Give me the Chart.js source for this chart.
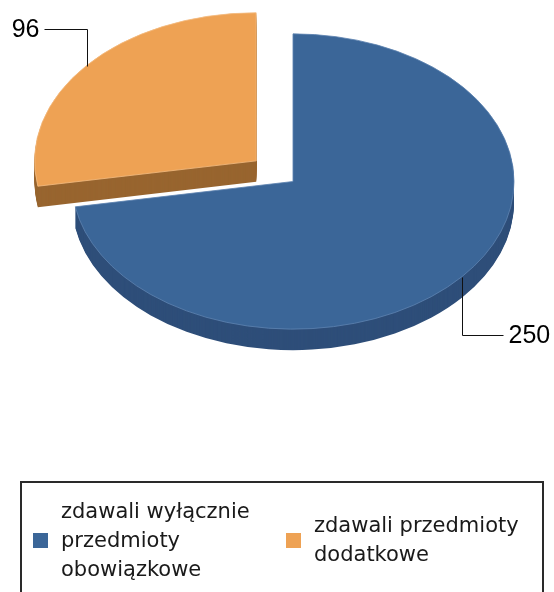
<!DOCTYPE html>
<html>
<head>
<meta charset="utf-8">
<script src="https://cdn.jsdelivr.net/npm/chart.js@4.4.0/dist/chart.umd.min.js"></script>
<style>
  html, body { margin: 0; padding: 0; background: #fff; overflow: hidden; }
  #wrap { position: relative; width: 554px; height: 592px; overflow: hidden; }
  #pie { position: absolute; left: 0; top: 0; }
  #legend {
    position: absolute; left: 20px; top: 481px; width: 520px; height: 140px;
    border: 2px solid #2a2a2a;
    font-family: "DejaVu Sans", sans-serif; font-size: 21px; color: #1a1a1a;
  }
  .item { position: absolute; top: 13px; height: 88px; display: flex; align-items: center; }
  .swatch { width: 15px; height: 15px; margin-right: 13px; flex: none; }
  .label { line-height: 29px; white-space: nowrap; }
</style>
</head>
<body>
<div id="wrap">
  <canvas id="pie" width="554" height="592"></canvas>
  <div id="legend"></div>
</div>
<script>
// data
const categories = [
    ['zdawali wyłącznie', 'przedmioty', 'obowiązkowe'],
    ['zdawali przedmioty', 'dodatkowe']
];
const counts = [250, 96];

// look
const topColors = ['#3B6698', '#EEA254'];
const sideColors = ['#2E4E79', '#98652F'];
const rimColors = ['#5D82B0', '#F3BB80'];
const explode = [0, 192];
const TILT = 0.668;   // vertical squash of the pie
const DEPTH = 21;     // thickness in px
const leaders = [{ dx: 41, dy: 58 }, { dx: -43, dy: -37 }];
const legendLeft = [11, 264];

function tilt(ctx, chart, dy) {
    const c = chart.getDatasetMeta(0).data[0];
    ctx.translate(c.x, c.y + dy);
    ctx.scale(1, TILT);
    ctx.translate(-c.x, -c.y);
}

// fake 3D: stack darker copies of the slices under the tilted top face
const pie3d = {
    id: 'pie3d',
    beforeDatasetsDraw(chart) {
        const ctx = chart.ctx;
        const arcs = chart.getDatasetMeta(0).data;
        for (let d = DEPTH; d > 0; d--) {
            arcs.forEach((arc, i) => {
                const own = arc.options;
                arc.options = Object.assign({}, own, { backgroundColor: sideColors[i], borderWidth: 0 });
                ctx.save();
                tilt(ctx, chart, d);
                arc.draw(ctx);
                ctx.restore();
                arc.options = own;
            });
        }
        ctx.save();
        tilt(ctx, chart, 0);
    },
    afterDatasetsDraw(chart) {
        const ctx = chart.ctx;
        ctx.restore();

        // value labels with leader lines
        const arcs = chart.getDatasetMeta(0).data;
        arcs.forEach((arc, i) => {
            const p = arc.getProps(['x', 'y', 'startAngle', 'endAngle', 'outerRadius']);
            const mid = (p.startAngle + p.endAngle) / 2;
            const circ = p.endAngle - p.startAngle;
            const push = (arc.options.offset || 0) / 4 * (2 - Math.sin(Math.min(Math.PI, circ)));
            const r = p.outerRadius + push;
            const ax = Math.round(p.x + Math.cos(mid) * r) + 0.5;
            const ay = Math.round(p.y + Math.sin(mid) * r * TILT) + 0.5;
            const l = leaders[i];

            ctx.save();
            ctx.strokeStyle = '#111';
            ctx.lineWidth = 1;
            ctx.beginPath();
            ctx.moveTo(ax, ay);
            ctx.lineTo(ax, ay + l.dy);
            ctx.lineTo(ax + l.dx, ay + l.dy);
            ctx.stroke();

            ctx.fillStyle = '#000';
            ctx.font = '25px "Liberation Sans", Arial, sans-serif';
            ctx.textBaseline = 'middle';
            ctx.textAlign = l.dx < 0 ? 'right' : 'left';
            ctx.fillText(String(counts[i]), ax + l.dx + (l.dx < 0 ? -5 : 5), ay + l.dy + 1);
            ctx.restore();
        });
    }
};

const chart = new Chart(document.getElementById('pie'), {
    type: 'pie',
    data: {
        labels: categories,
        datasets: [{
            data: counts,
            backgroundColor: topColors,
            borderColor: rimColors,
            borderWidth: 1,
            offset: explode,
            radius: 221,
            clip: false
        }]
    },
    options: {
        responsive: false,
        animation: false,
        events: [],
        layout: { padding: { left: 32, right: 0, top: 0, bottom: 229 } },
        plugins: {
            legend: { display: false },
            tooltip: { enabled: false }
        }
    },
    plugins: [pie3d]
});

// html legend
const legend = document.getElementById('legend');
chart.data.labels.forEach((lines, i) => {
    const item = document.createElement('div');
    item.className = 'item';
    item.style.left = legendLeft[i] + 'px';
    const sw = document.createElement('div');
    sw.className = 'swatch';
    sw.style.background = topColors[i];
    const txt = document.createElement('div');
    txt.className = 'label';
    txt.innerHTML = lines.join('<br>');
    item.appendChild(sw);
    item.appendChild(txt);
    legend.appendChild(item);
});
</script>
</body>
</html>
